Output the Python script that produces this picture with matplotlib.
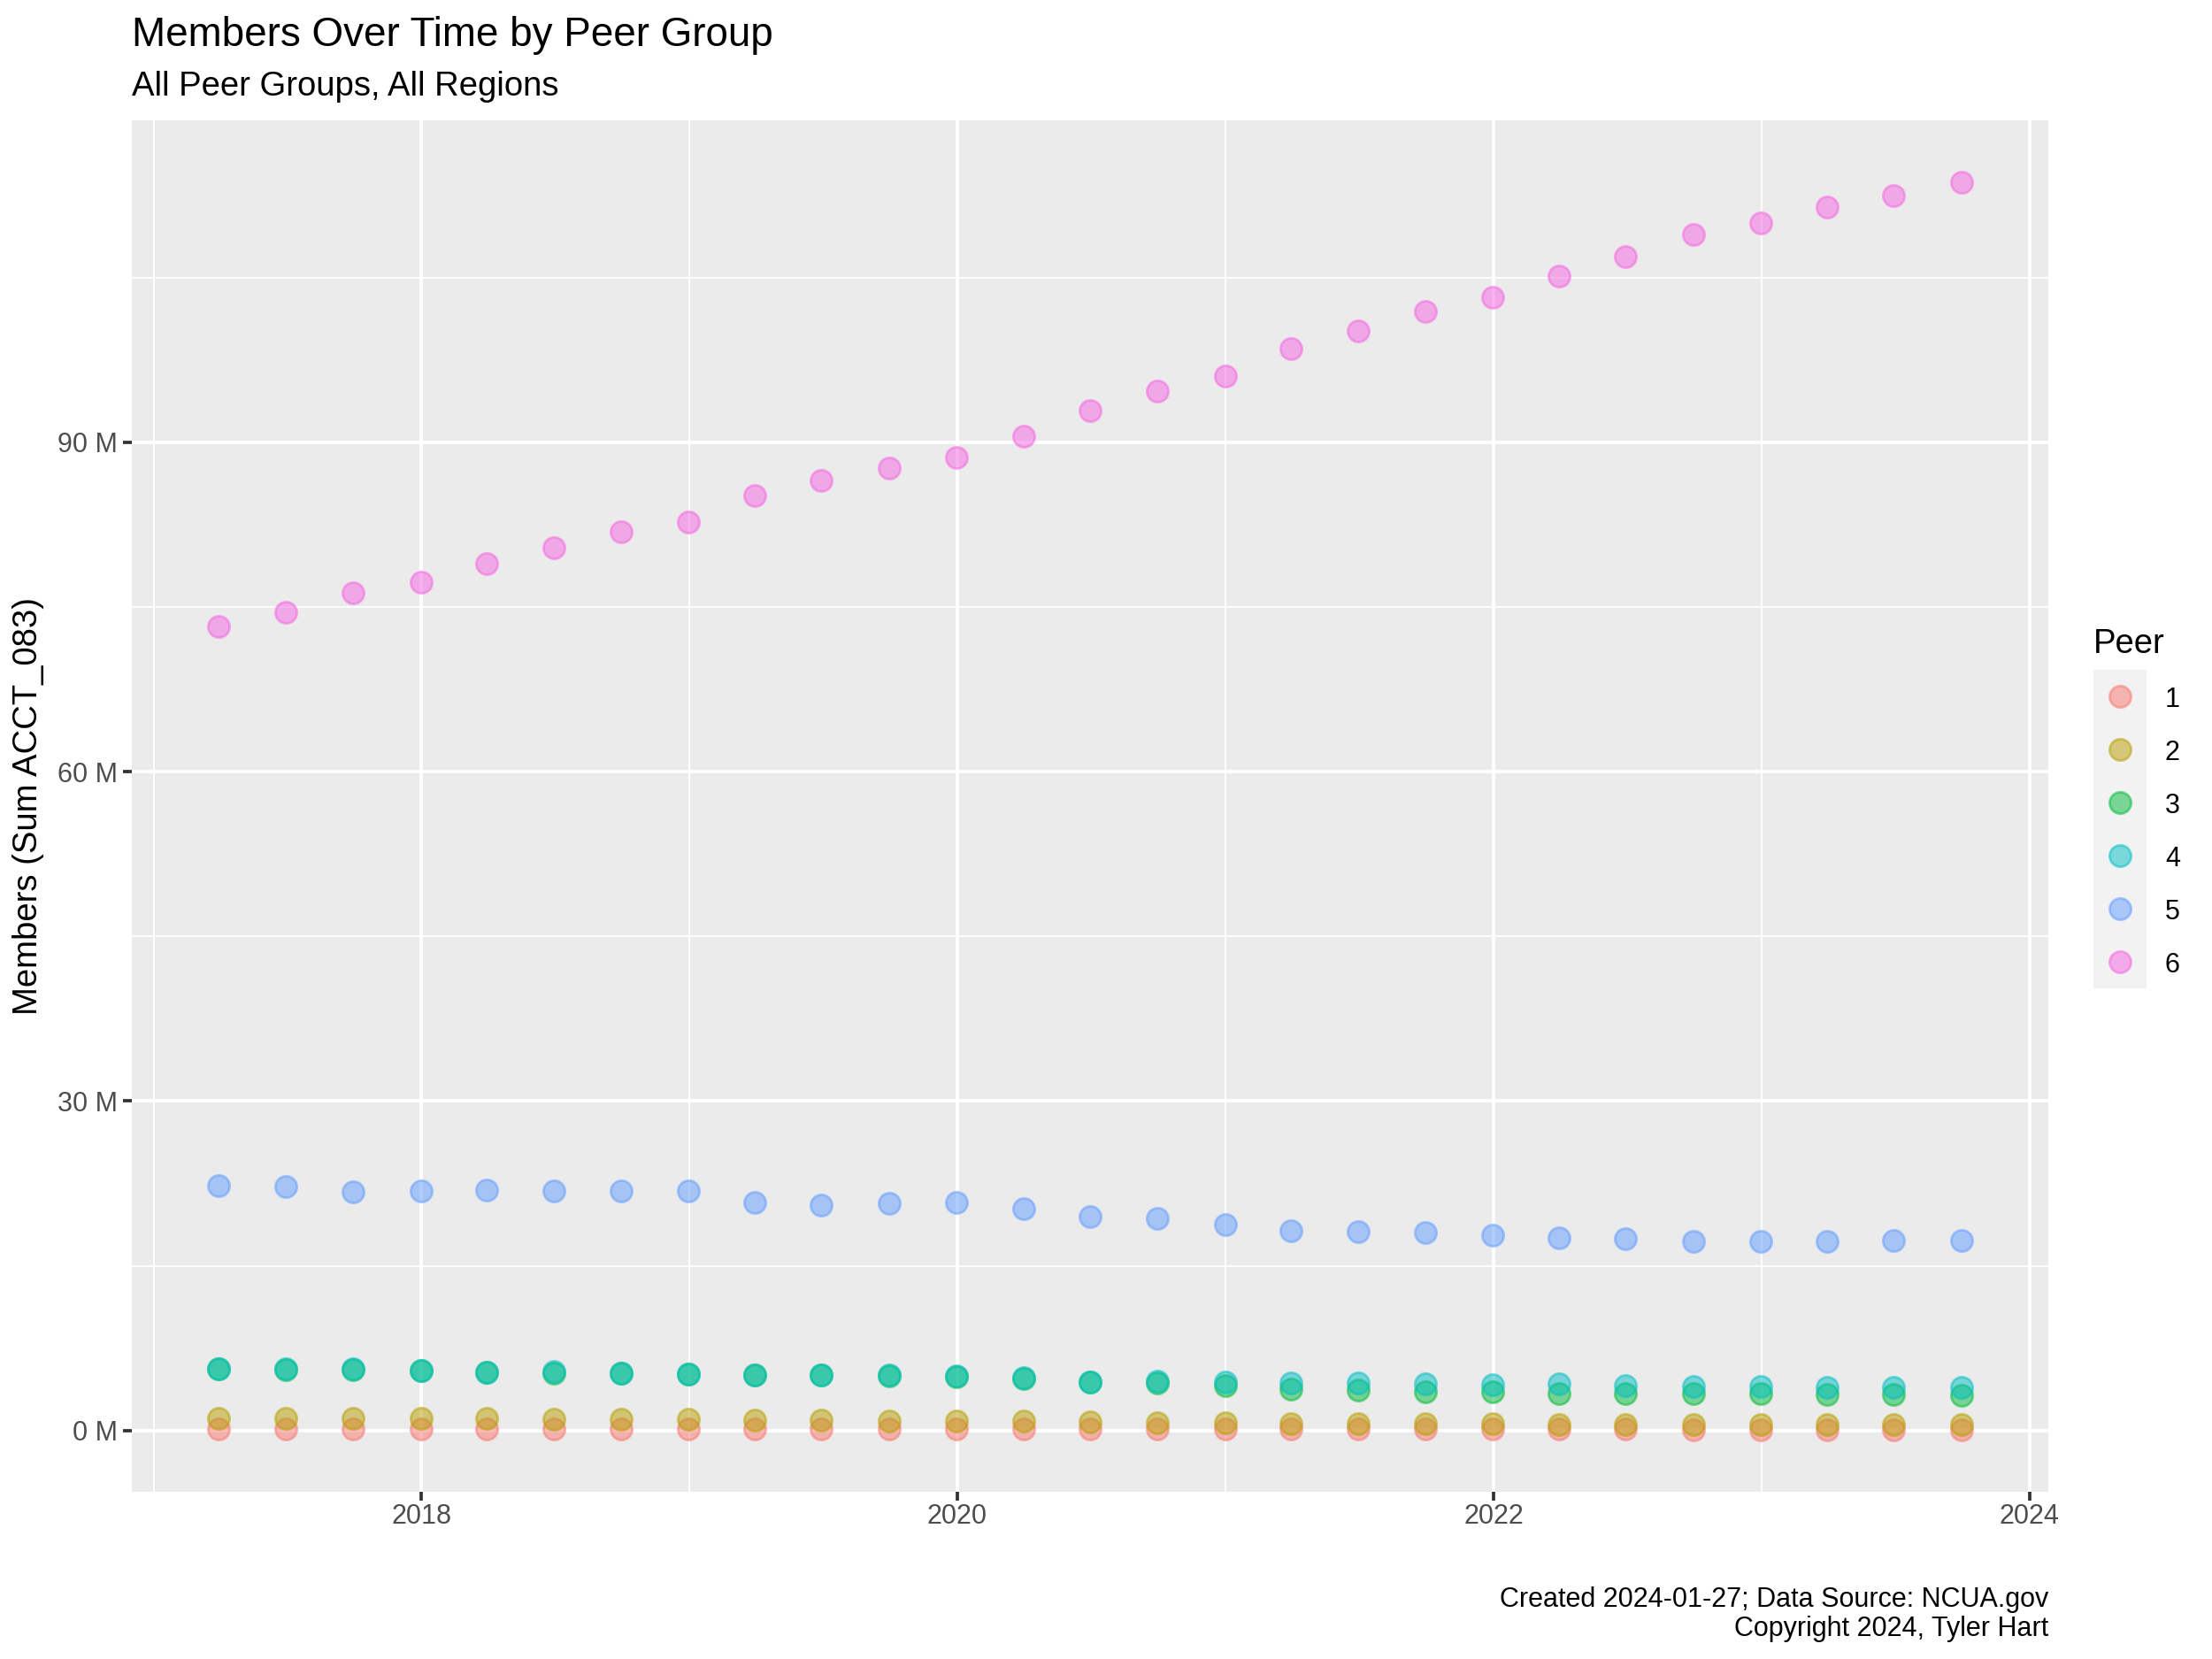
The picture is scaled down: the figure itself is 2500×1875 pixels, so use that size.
import matplotlib
matplotlib.use("Agg")
import matplotlib.pyplot as plt
import matplotlib.dates as mdates
from matplotlib.lines import Line2D
from matplotlib.patches import Rectangle
from matplotlib.ticker import MultipleLocator, FuncFormatter
import pandas as pd

plt.rcParams['font.family'] = ['Liberation Sans', 'DejaVu Sans']

# ---------------- data (members, millions) ----------------
quarters = [
    "2017-03-31", "2017-06-30", "2017-09-30", "2017-12-31",
    "2018-03-31", "2018-06-30", "2018-09-30", "2018-12-31",
    "2019-03-31", "2019-06-30", "2019-09-30", "2019-12-31",
    "2020-03-31", "2020-06-30", "2020-09-30", "2020-12-31",
    "2021-03-31", "2021-06-30", "2021-09-30", "2021-12-31",
    "2022-03-31", "2022-06-30", "2022-09-30", "2022-12-31",
    "2023-03-31", "2023-06-30", "2023-09-30",
]

peer1 = [0.13, 0.13, 0.13, 0.13, 0.13, 0.12, 0.12, 0.12, 0.12, 0.12, 0.12, 0.12,
         0.12, 0.11, 0.11, 0.11, 0.11, 0.11, 0.10, 0.10, 0.10, 0.10, 0.09, 0.09,
         0.09, 0.09, 0.09]
peer2 = [1.13, 1.12, 1.10, 1.08, 1.07, 1.04, 1.00, 0.99, 0.93, 0.90, 0.88, 0.86,
         0.82, 0.74, 0.70, 0.67, 0.64, 0.61, 0.60, 0.58, 0.56, 0.55, 0.54, 0.54,
         0.54, 0.54, 0.53]
peer3 = [5.58, 5.56, 5.55, 5.44, 5.31, 5.18, 5.25, 5.17, 5.03, 5.02, 4.95, 4.92,
         4.72, 4.40, 4.33, 4.08, 3.75, 3.67, 3.54, 3.54, 3.35, 3.35, 3.35, 3.35,
         3.27, 3.30, 3.22]
peer4 = [5.60, 5.64, 5.60, 5.44, 5.31, 5.35, 5.25, 5.17, 5.06, 5.04, 5.06, 4.93,
         4.82, 4.42, 4.48, 4.42, 4.29, 4.29, 4.24, 4.16, 4.21, 4.10, 4.02, 3.97,
         3.94, 3.94, 3.94]
peer5 = [22.26, 22.20, 21.72, 21.78, 21.86, 21.80, 21.83, 21.78, 20.73, 20.52,
         20.65, 20.76, 20.17, 19.49, 19.31, 18.77, 18.18, 18.10, 18.02, 17.80,
         17.51, 17.43, 17.24, 17.24, 17.24, 17.27, 17.27]
peer6 = [73.19, 74.55, 76.27, 77.28, 78.98, 80.42, 81.83, 82.75, 85.19, 86.49,
         87.64, 88.59, 90.55, 92.91, 94.69, 96.04, 98.55, 100.16, 101.91, 103.24,
         105.17, 106.95, 108.94, 109.97, 111.44, 112.50, 113.65]

peer_labels = ["1", "2", "3", "4", "5", "6"]
peer_values = [peer1, peer2, peer3, peer4, peer5, peer6]
peer_colors = ["#F8766D", "#B79F00", "#00BA38", "#00BFC4", "#619CFF", "#F564E3"]

title = "Members Over Time by Peer Group"
subtitle = "All Peer Groups, All Regions"
ylabel = "Members (Sum ACCT_083)"
caption1 = "Created 2024-01-27; Data Source: NCUA.gov"
caption2 = "Copyright 2024, Tyler Hart"

# ---------------- figure ----------------
DPI = 250
W, H = 2500, 1875
fig = plt.figure(figsize=(W / DPI, H / DPI), dpi=DPI)
fig.patch.set_facecolor("white")

L, R, T, B = 149, 2315, 136, 1686
ax = fig.add_axes([L / W, 1 - B / H, (R - L) / W, (B - T) / H])
ax.set_facecolor("#EBEBEB")
for s in ax.spines.values():
    s.set_visible(False)

dates = pd.to_datetime(quarters)
msize = 7.0
medge = 0.8
for lab, vals, col in zip(peer_labels, peer_values, peer_colors):
    ax.scatter(dates, vals, s=msize ** 2, color=col, alpha=0.5,
               edgecolors=col, linewidths=medge, zorder=3)

ax.margins(x=0.05, y=0.05)

ax.xaxis.set_major_locator(mdates.YearLocator(2))
ax.xaxis.set_minor_locator(mdates.YearLocator(1))
ax.xaxis.set_major_formatter(mdates.DateFormatter("%Y"))
ax.yaxis.set_major_locator(MultipleLocator(30))
ax.yaxis.set_minor_locator(MultipleLocator(15))
ax.yaxis.set_major_formatter(FuncFormatter(lambda v, p: f"{v:.0f} M"))

ax.set_axisbelow(True)
ax.grid(which="major", color="white", linewidth=1.07)
ax.grid(which="minor", color="white", linewidth=0.53)
ax.tick_params(which="major", length=2.75, width=1.07, color="#333333",
               labelsize=8.8, labelcolor="#4D4D4D", pad=2.0)
ax.tick_params(axis="x", which="major", pad=0.9)
ax.tick_params(which="minor", length=0)

# titles
fig.text(L / W, 1 - 52 / H, title, fontsize=13.2, ha="left", va="baseline", color="black")
fig.text(L / W, 1 - 108 / H, subtitle, fontsize=11, ha="left", va="baseline", color="black")
fig.text(32 / W, 1 - ((T + B) / 2) / H, ylabel, fontsize=11, rotation=90,
         ha="center", va="center", color="black")
fig.text(R / W, 1 - 1816 / H, caption1, fontsize=8.8, ha="right", va="baseline")
fig.text(R / W, 1 - 1849 / H, caption2, fontsize=8.8, ha="right", va="baseline")

# legend
fs_px = 8.8 * DPI / 72
KEY = 60.0              # key cell size in px
target_cx = 2396.0      # first key centre (px from left)
target_cy = H - 787.0   # first key centre (px from bottom)

handles = [Line2D([], [], marker="o", linestyle="none", markersize=msize,
                  markerfacecolor=c, markeredgecolor=c, markeredgewidth=medge, alpha=0.5)
           for c in peer_colors]


def make_legend(ls, anchor):
    return fig.legend(handles, peer_labels, title="Peer", loc="upper left",
                      bbox_to_anchor=anchor, frameon=False,
                      fontsize=8.8, title_fontsize=11, alignment="left",
                      borderpad=0, borderaxespad=0,
                      handlelength=KEY / fs_px, handletextpad=21 / fs_px,
                      labelspacing=ls, handleheight=1.0)


def centers(leg):
    fig.canvas.draw()
    r = fig.canvas.get_renderer()
    bbs = [h.get_window_extent(r) for h in leg.legend_handles]
    return [((b.x0 + b.x1) / 2, (b.y0 + b.y1) / 2) for b in bbs]


ls = 0.9
anchor = (2366 / W, 1 - 700 / H)
leg = make_legend(ls, anchor)
c = centers(leg)
pitch = (c[0][1] - c[-1][1]) / (len(c) - 1)
ls = ls + (KEY - pitch) / fs_px
leg.remove()
leg = make_legend(ls, anchor)
c = centers(leg)
dx = target_cx - c[0][0]
dy = target_cy - c[0][1]
leg.remove()
anchor = (anchor[0] + dx / W, anchor[1] + dy / H)
leg = make_legend(ls, anchor)
c = centers(leg)

cx = c[0][0]
cy_first = c[0][1]
cy_last = c[-1][1]
pitch = (cy_first - cy_last) / (len(c) - 1)
rect = Rectangle(((cx - KEY / 2) / W, (cy_last - pitch / 2) / H), KEY / W,
                 (cy_first - cy_last + pitch) / H,
                 transform=fig.transFigure, facecolor="#F2F2F2", edgecolor="none", zorder=1)
fig.patches.append(rect)

fig.savefig("out.png", dpi=DPI)
